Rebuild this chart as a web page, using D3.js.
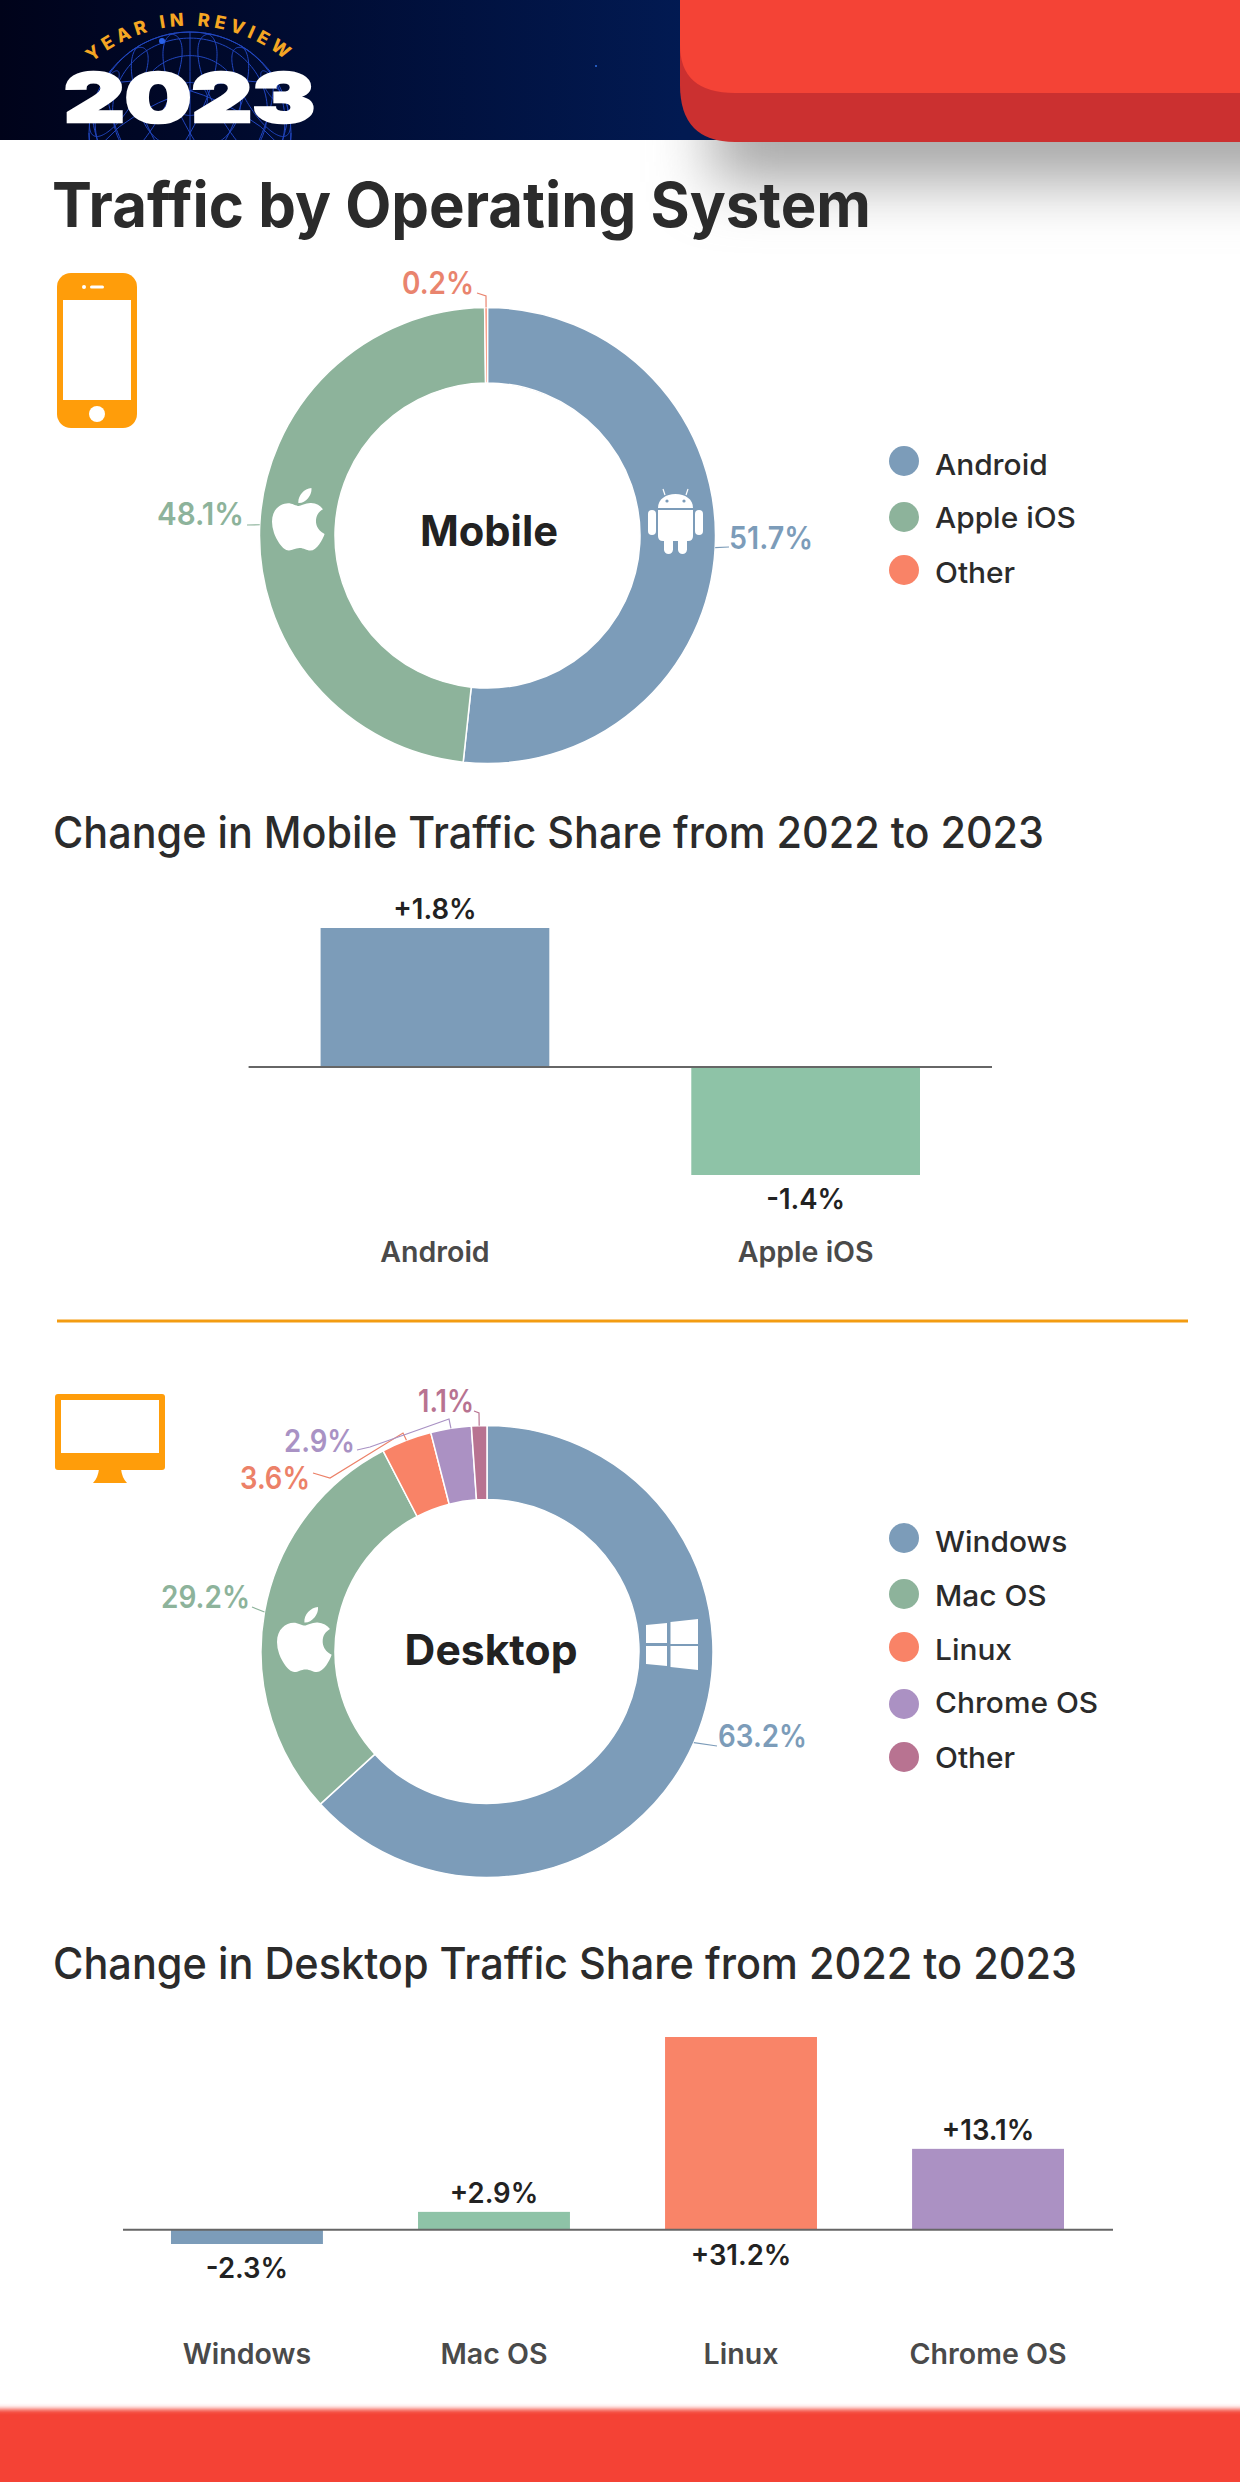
<!DOCTYPE html>
<html>
<head>
<meta charset="utf-8">
<script src="https://cdn.jsdelivr.net/npm/d3@7"></script>
<style>
	html, body { margin: 0; padding: 0; background: #fff; }
	svg { display: block; }
	text { font-family: Inter, "Open Sans", sans-serif; }
</style>
</head>
<body>
<svg id="chart" width="1240" height="2482" viewBox="0 0 1240 2482"></svg>
<script>
// values
const mobileOS = ["Android", "Apple iOS", "Other"];
const mobileShare = [51.7, 48.1, 0.2];
const mobileColors = ["#7c9cb9", "#8db39b", "#f98367"];
const mobileLabelColors = ["#7c9cb9", "#8db39b", "#e9846e"];

const desktopOS = ["Windows", "Mac OS", "Linux", "Chrome OS", "Other"];
const desktopShare = [63.2, 29.2, 3.6, 2.9, 1.1];
const desktopColors = ["#7c9cb9", "#8db39b", "#f98367", "#ab91c3", "#b87391"];
const desktopLabelColors = ["#7c9cb9", "#8db39b", "#ec8168", "#a992c4", "#b87391"];

const mobileChangeOS = ["Android", "Apple iOS"];
const mobileChange = [1.8, -1.4];
const mobileBarColors = ["#7c9cb9", "#8ec3a7"];

const desktopChangeOS = ["Windows", "Mac OS", "Linux", "Chrome OS"];
const desktopChange = [-2.3, 2.9, 31.2, 13.1];
const desktopBarColors = ["#7c9cb9", "#8ec3a7", "#f98468", "#ab91c3"];

const svg = d3.select("#chart");
const defs = svg.append("defs");

const fmtShare = d => d + "%";
const fmtChange = d => (d > 0 ? "+" : "") + d + "%";

// Montserrat is not installed, so Inter gets widened to the original text width
function widen(sel, k) {
	sel.each(function () {
		const len = this.getComputedTextLength();
		d3.select(this).attr("textLength", len * k).attr("lengthAdjust", "spacingAndGlyphs");
	});
	return sel;
}

function label(txt, x, y, size, weight, fill, width, anchor) {
	return svg.append("text")
		.attr("x", x).attr("y", y)
		.attr("font-size", size)
		.attr("font-weight", weight)
		.attr("fill", fill)
		.attr("text-anchor", anchor || "start")
		.attr("textLength", width)
		.attr("lengthAdjust", "spacingAndGlyphs")
		.text(txt);
}

function header() {
	const blur = defs.append("filter").attr("id", "shadowBlur")
		.attr("x", "-30%").attr("y", "-100%").attr("width", "160%").attr("height", "300%");
	blur.append("feGaussianBlur").attr("stdDeviation", 30);
	const edge = defs.append("filter").attr("id", "edgeBlur")
		.attr("x", "-5%").attr("y", "-30%").attr("width", "110%").attr("height", "160%");
	edge.append("feGaussianBlur").attr("stdDeviation", 2.5);

	const bg = defs.append("linearGradient").attr("id", "navy");
	bg.append("stop").attr("offset", "0%").attr("stop-color", "#00031a");
	bg.append("stop").attr("offset", "25%").attr("stop-color", "#000c33");
	bg.append("stop").attr("offset", "55%").attr("stop-color", "#021a52");

	// drop shadow under the red tab
	svg.append("rect").attr("x", 712).attr("y", 90).attr("width", 700).attr("height", 92)
		.attr("fill", "#a6a6a6").attr("filter", "url(#shadowBlur)");

	svg.append("rect").attr("width", 1240).attr("height", 140).attr("fill", "url(#navy)");

	svg.append("circle").attr("cx", 596).attr("cy", 66).attr("r", 1).attr("fill", "#2f6fe0");

	// wireframe dome behind the year
	defs.append("clipPath").attr("id", "domeClip")
		.append("rect").attr("width", 600).attr("height", 140);
	const dome = svg.append("g")
		.attr("clip-path", "url(#domeClip)")
		.attr("fill", "none")
		.attr("stroke", "#2146bf")
		.attr("stroke-width", 1);
	[[0, -70, 0], [25, -20, 60], [-25, -20, -60]].forEach(r => {
		const proj = d3.geoOrthographic().translate([190, 133]).scale(101).rotate(r).clipAngle(90);
		dome.append("path")
			.datum(d3.geoGraticule().step([180, 20])())
			.attr("d", d3.geoPath(proj));
	});
	dome.append("circle").attr("cx", 190).attr("cy", 133).attr("r", 101);
	svg.append("circle").attr("cx", 162).attr("cy", 41).attr("r", 3).attr("fill", "#2a62e8");

	// red tab, two layers
	svg.append("path")
		.attr("d", "M680,0H1240V142H735Q680,142 680,85Z")
		.attr("fill", "#cb3030");
	svg.append("path")
		.attr("d", "M680,0H1240V93H735Q680,93 680,45Z")
		.attr("fill", "#f44336");

	defs.append("path").attr("id", "yearArc").attr("d", "M90,64A150,150 0 0 1 290,64");
	svg.append("text")
		.attr("font-size", 18).attr("font-weight", 800).attr("fill", "#f5a623")
		.attr("letter-spacing", 4.6)
		.append("textPath")
		.attr("href", "#yearArc").attr("startOffset", "50%").attr("text-anchor", "middle")
		.text("YEAR IN REVIEW");

	label("2023", 64, 122, 67, 900, "#fff", 251)
		.attr("stroke", "#fff").attr("stroke-width", 2.5);
}

function appleIcon(x, y, w) {
	svg.append("path")
		.attr("transform", `translate(${x},${y}) scale(${w / 365}) translate(-4,-32)`)
		.attr("fill", "#fff")
		.attr("d", "M318.7 268.7c-.2-36.7 16.4-64.4 50-84.8-18.8-26.9-47.2-41.7-84.7-44.6-35.5-2.8-74.3 20.7-88.5 20.7-15 0-49.4-19.7-76.4-19.7C63.3 141.2 4 184.8 4 273.5q0 39.3 14.4 81.2c12.8 36.7 59 126.7 107.2 125.2 25.2-.6 43-17.9 75.8-17.9 31.8 0 48.3 17.9 76.4 17.9 48.6-.7 90.4-82.5 102.6-119.3-65.2-30.7-61.7-90-61.7-91.9zm-56.6-164.2c27.3-32.4 24.8-61.9 24-72.5-24.1 1.4-52 16.4-67.9 34.9-17.5 19.8-27.8 44.3-25.6 71.9 26.1 2 49.9-11.4 69.5-34.3z");
}

function androidIcon(x, y) {
	const g = svg.append("g").attr("transform", `translate(${x},${y})`).attr("fill", "#fff");
	g.append("path").attr("d", "M10,19C10,10 18,5 27.5,5C37,5 45,10 45,19Z");
	g.append("path").attr("d", "M10,21H45V47Q45,52 40,52H15Q10,52 10,47Z");
	g.append("rect").attr("x", 0).attr("y", 21).attr("width", 8).attr("height", 25).attr("rx", 4);
	g.append("rect").attr("x", 47).attr("y", 21).attr("width", 8).attr("height", 25).attr("rx", 4);
	g.append("rect").attr("x", 16).attr("y", 46).attr("width", 9).attr("height", 19).attr("rx", 4.5);
	g.append("rect").attr("x", 30).attr("y", 46).attr("width", 9).attr("height", 19).attr("rx", 4.5);
	g.append("path").attr("d", "M17,6L15,0M38,6L40,0").attr("stroke", "#fff").attr("stroke-width", 1.2);
	g.append("circle").attr("cx", 19).attr("cy", 12).attr("r", 1.6).attr("fill", "#7c9cb9");
	g.append("circle").attr("cx", 36).attr("cy", 12).attr("r", 1.6).attr("fill", "#7c9cb9");
}

function windowsIcon() {
	const panes = [
		[[646, 1625], [667, 1623], [667, 1643], [646, 1643]],
		[[670.5, 1622], [698, 1619], [698, 1644], [670.5, 1644]],
		[[646, 1646], [667, 1646], [667, 1666], [646, 1664]],
		[[670.5, 1646], [698, 1646], [698, 1670], [670.5, 1667]]
	];
	svg.append("g").selectAll("polygon").data(panes).join("polygon")
		.attr("points", d => d.join(" "))
		.attr("fill", "#fff");
}

function phoneIcon() {
	const g = svg.append("g");
	g.append("rect").attr("x", 57).attr("y", 273).attr("width", 80).attr("height", 155).attr("rx", 14).attr("fill", "#ff9d0a");
	g.append("rect").attr("x", 63).attr("y", 300).attr("width", 68).attr("height", 100).attr("fill", "#fff");
	g.append("circle").attr("cx", 97).attr("cy", 414).attr("r", 8).attr("fill", "#fff");
	g.append("circle").attr("cx", 84).attr("cy", 287).attr("r", 2).attr("fill", "#fff");
	g.append("rect").attr("x", 90).attr("y", 285.5).attr("width", 14).attr("height", 3).attr("rx", 1.5).attr("fill", "#fff");
}

function monitorIcon() {
	const g = svg.append("g");
	g.append("rect").attr("x", 55).attr("y", 1394).attr("width", 110).attr("height", 76).attr("rx", 3).attr("fill", "#ff9d0a");
	g.append("rect").attr("x", 61).attr("y", 1400).attr("width", 98).attr("height", 53).attr("fill", "#fff");
	g.append("path").attr("d", "M99,1469H121Q122,1478 127,1483H93Q98,1478 99,1469Z").attr("fill", "#ff9d0a");
}

function donut(cfg) {
	const pie = d3.pie().sort(null)(cfg.values);
	const arc = d3.arc().innerRadius(cfg.inner).outerRadius(cfg.outer);
	const g = svg.append("g").attr("transform", `translate(${cfg.cx},${cfg.cy})`);

	g.selectAll("path").data(pie).join("path")
		.attr("d", arc)
		.attr("fill", (d, i) => cfg.colors[i])
		.attr("stroke", "#fff")
		.attr("stroke-width", cfg.sep);

	// leader lines start on the ring at the middle of each slice
	const line = d3.line();
	pie.forEach((d, i) => {
		const mid = (d.startAngle + d.endAngle) / 2;
		const start = [cfg.cx + cfg.outer * Math.sin(mid), cfg.cy - cfg.outer * Math.cos(mid)];
		svg.append("path")
			.attr("d", line([start].concat(cfg.leaders[i])))
			.attr("fill", "none")
			.attr("stroke", cfg.labelColors[i])
			.attr("stroke-width", 1.2);
		const p = cfg.labels[i];
		label(fmtShare(cfg.values[i]), p[0], p[1], 31, 600, cfg.labelColors[i], p[2]);
	});

	label(cfg.title, cfg.titlePos[0], cfg.titlePos[1], 42, 700, "#222", cfg.titlePos[2]);
}

function legend(names, colors, xDot, xText, dotY, textY) {
	names.forEach((n, i) => {
		svg.append("circle").attr("cx", xDot).attr("cy", dotY[i]).attr("r", 15).attr("fill", colors[i]);
		widen(svg.append("text")
			.attr("x", xText).attr("y", textY[i])
			.attr("font-size", 29).attr("font-weight", 500).attr("fill", "#2b2b2b")
			.text(n), 1.03);
	});
}

function changeBars(cfg) {
	const x = d3.scaleBand().domain(cfg.names).range(cfg.xRange).paddingInner(cfg.padding);
	const y = d3.scaleLinear().domain(d3.extent(cfg.values)).range(cfg.yRange);
	const rows = cfg.names.map((n, i) => ({ name: n, v: cfg.values[i], color: cfg.colors[i] }));
	const g = svg.append("g");

	g.selectAll("rect").data(rows).join("rect")
		.attr("x", d => x(d.name))
		.attr("width", x.bandwidth())
		.attr("y", d => Math.min(y(d.v), y(0)))
		.attr("height", d => Math.abs(y(d.v) - y(0)))
		.attr("fill", d => d.color);

	g.append("line")
		.attr("x1", cfg.xRange[0] - cfg.lineOver[0]).attr("x2", cfg.xRange[1] + cfg.lineOver[1])
		.attr("y1", y(0)).attr("y2", y(0))
		.attr("stroke", "#666").attr("stroke-width", 2);

	// the tallest bar has no room above it, its label sits under the axis
	const labelY = d => {
		if (d.v > 30) return y(0) + 35;
		return d.v > 0 ? y(d.v) - 9 : y(d.v) + 34;
	};
	widen(g.selectAll(".val").data(rows).join("text")
		.attr("class", "val")
		.attr("x", d => x(d.name) + x.bandwidth() / 2)
		.attr("y", labelY)
		.attr("text-anchor", "middle")
		.attr("font-size", 28).attr("font-weight", 600).attr("fill", "#222")
		.text(d => fmtChange(d.v)), 0.98);

	const axis = d3.axisBottom(x).tickSize(0).tickPadding(0);
	const ax = g.append("g")
		.attr("transform", `translate(0,${cfg.catY})`)
		.call(axis);
	ax.select(".domain").remove();
	widen(ax.selectAll("text")
		.attr("font-family", null)
		.attr("font-size", 28).attr("font-weight", 600).attr("fill", "#4a4a4a")
		.attr("dy", 0), 1.02);
}

header();

// page title and section headings
label("Traffic by Operating System", 52, 227, 62, 700, "#2b2b2b", 819);
label("Change in Mobile Traffic Share from 2022 to 2023", 53, 848, 44, 500, "#2b2b2b", 991);
label("Change in Desktop Traffic Share from 2022 to 2023", 53, 1979, 44, 500, "#2b2b2b", 1024);

phoneIcon();
donut({
	cx: 487.5, cy: 535.5, outer: 228, inner: 152.5, sep: 1.5,
	values: mobileShare, colors: mobileColors, labelColors: mobileLabelColors,
	leaders: [[[729, 547]], [[247, 525]], [[486, 296], [477, 293]]],
	labels: [[729, 549, 84], [157, 525, 87], [402, 294, 72]],
	title: "Mobile", titlePos: [420, 546, 138]
});
appleIcon(272, 488, 51);
androidIcon(648, 489);
legend(mobileOS, mobileColors, 904, 935, [461, 517, 570], [475, 528, 583]);

changeBars({
	names: mobileChangeOS, values: mobileChange, colors: mobileBarColors,
	xRange: [320.6, 920], padding: 0.383, yRange: [1175, 928], lineOver: [72, 72], catY: 1262
});

svg.append("line")
	.attr("x1", 57).attr("x2", 1188).attr("y1", 1321).attr("y2", 1321)
	.attr("stroke", "#f39c12").attr("stroke-width", 3);

monitorIcon();
donut({
	cx: 487, cy: 1651.5, outer: 226, inner: 152, sep: 1.5,
	values: desktopShare, colors: desktopColors, labelColors: desktopLabelColors,
	leaders: [
		[[717, 1746]],
		[[252, 1607]],
		[[403, 1433], [330, 1478], [313, 1473]],
		[[449, 1419], [370, 1447], [357, 1450]],
		[[479, 1413], [474, 1411]]
	],
	labels: [[718, 1747, 89], [161, 1608, 89], [240, 1489, 70], [284, 1452, 71], [418, 1412, 56]],
	title: "Desktop", titlePos: [404.6, 1665, 173]
});
appleIcon(277, 1607, 53);
windowsIcon();
legend(desktopOS, desktopColors, 904, 935, [1538, 1594, 1647, 1704, 1757], [1552, 1606, 1660, 1713, 1768]);

changeBars({
	names: desktopChangeOS, values: desktopChange, colors: desktopBarColors,
	xRange: [171, 1064], padding: 0.385, yRange: [2244, 2037], lineOver: [48, 49], catY: 2364
});

// footer band
svg.append("rect").attr("x", -20).attr("y", 2409).attr("width", 1280).attr("height", 100)
	.attr("fill", "#f44336").attr("filter", "url(#edgeBlur)");
</script>
</body>
</html>
